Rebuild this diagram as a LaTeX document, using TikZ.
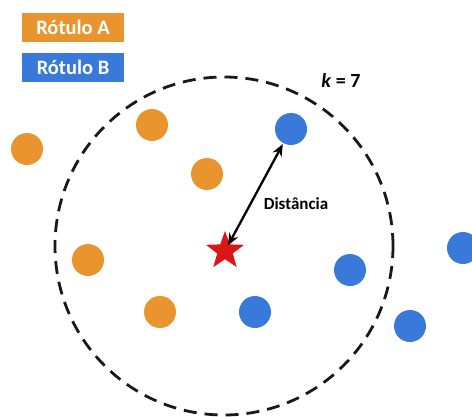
\documentclass[tikz,border=0pt]{standalone}
\usepackage{fontspec}
\setmainfont{Carlito}
\usetikzlibrary{shapes.geometric,arrows.meta}
\definecolor{dotorange}{RGB}{233,148,46}
\definecolor{dotblue}{RGB}{56,121,217}
\definecolor{starred}{RGB}{218,22,22}
\tikzset{
  odot/.style={circle,fill=dotorange,draw=none,minimum size=32pt,inner sep=0pt},
  bdot/.style={circle,fill=dotblue,draw=none,minimum size=32pt,inner sep=0pt},
  legendbox/.style={minimum width=102pt,minimum height=29pt,inner sep=0pt,text=white,font=\fontsize{20.5}{22}\selectfont\bfseries},
  dashring/.style={draw=black!90,line width=2.8pt,dash pattern=on 13pt off 8pt},
}
\begin{document}
\begin{tikzpicture}[x=1pt,y=-1pt]
\useasboundingbox (0,0) rectangle (472,416);
\clip (0,0) rectangle (472,416);
\fill[white] (0,0) rectangle (472,416);
% legend
\node[legendbox,fill=dotorange] (la) at (73,27.5) {Rótulo A};
\node[legendbox,fill=dotblue] (lb) at (73,67.5) {Rótulo B};
% neighbourhood ring
\node[circle,dashring,minimum size=338pt,inner sep=0pt] (ring) at (224,246) {};
\node[font=\fontsize{20}{22}\selectfont\bfseries] (k) at (341,80) {\textit{k} = 7};
% points
\node[odot] (o1) at (27,149) {};
\node[odot] (o2) at (152,125) {};
\node[odot] (o3) at (207,174) {};
\node[odot] (o4) at (88,260) {};
\node[odot] (o5) at (160,312) {};
\node[bdot] (b1) at (291,129) {};
\node[bdot] (b2) at (255,312) {};
\node[bdot] (b3) at (350,270) {};
\node[bdot] (b4) at (410,326) {};
\node[bdot] (b5) at (463,248) {};
% query star
\node[star,star points=5,star point ratio=2.45,fill=starred,draw=none,minimum size=40pt,inner sep=0pt] (q) at (225,251) {};
% distance
\draw[line width=2.3pt,{Stealth[length=12pt,width=10pt]}-{Stealth[length=12pt,width=10pt]},shorten <=-3pt,shorten >=1pt] (q) -- (b1);
\node[font=\fontsize{17}{19}\selectfont\bfseries] (d) at (296,204) {Distância};
\end{tikzpicture}
\end{document}
